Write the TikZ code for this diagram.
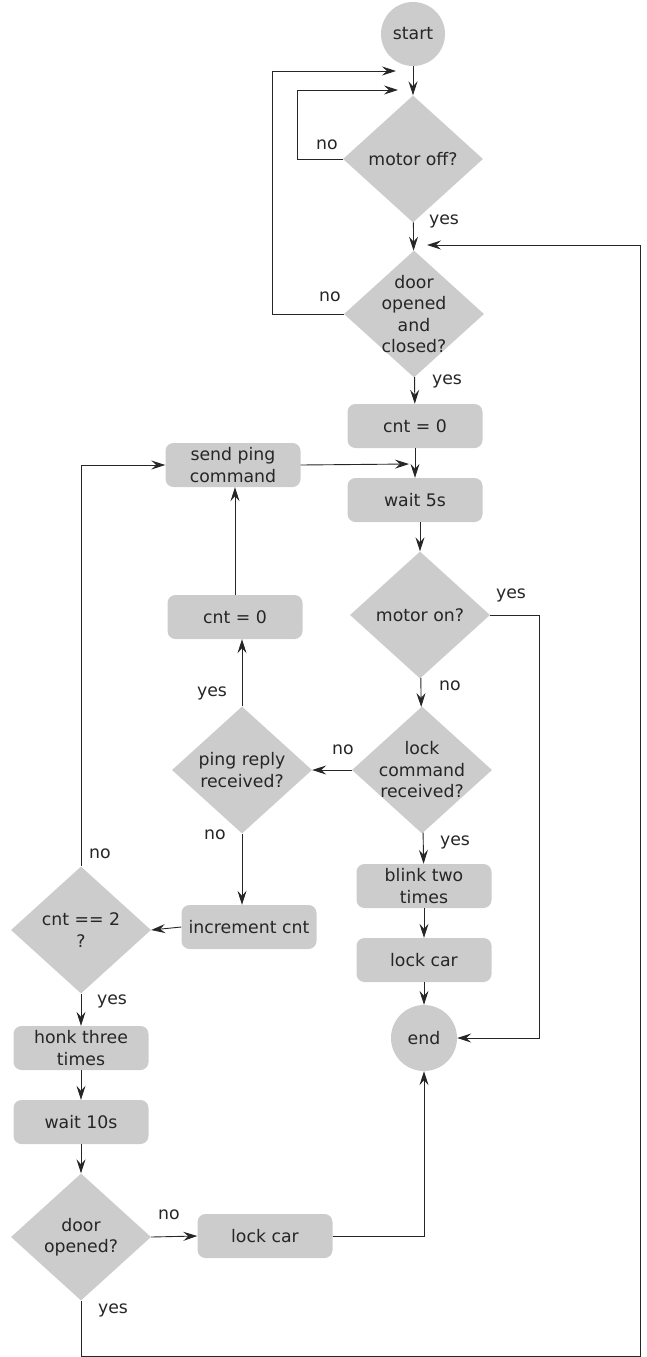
\documentclass[tikz,border=0pt]{standalone}
\usepackage{fontspec}
\setmainfont{DejaVu Sans}
\usetikzlibrary{shapes.geometric,arrows.meta}
\definecolor{boxgray}{RGB}{204,204,204}

\begin{document}
\begin{tikzpicture}[x=1pt, y=-1pt,
  every node/.style={font=\fontsize{17.3}{21.5}\selectfont, text=black!85},
  box/.style={fill=boxgray, rounded corners=8pt, minimum width=135pt, minimum height=44pt, inner sep=2pt, align=center},
  decision/.style={diamond, fill=boxgray, minimum width=140pt, minimum height=127pt, inner sep=-20pt, align=center},
  terminal/.style={circle, fill=boxgray, minimum size=64pt, inner sep=0pt},
  flow/.style={line width=0.9pt, black!85},
  >={Stealth[length=14pt, width=9pt, inset=5pt]}]
  \useasboundingbox (0,0) rectangle (647,1357);

  % main column
  \node[terminal] (start) at (413,34) {start};
  \node[decision] (motoroff) at (413,159) {motor off?};
  \node[decision] (door) at (414,314) {door\\opened\\and\\closed?};
  \node[box] (cntA) at (415,426) {cnt = 0};
  \node[box] (waitA) at (415,500) {wait 5s};
  \node[decision] (motoron) at (420,615) {motor on?};
  \node[decision] (lockcmd) at (422,770) {lock\\command\\received?};
  \node[box] (blink) at (424,886) {blink two\\times};
  \node[box] (lockA) at (424,960) {lock car};
  \node[terminal, minimum size=66pt] (end) at (424,1038) {end};

  % ping loop
  \node[box] (ping) at (233,465) {send ping\\command};
  \node[box] (cntB) at (235,617) {cnt = 0};
  \node[decision] (reply) at (242,770) {ping reply\\received?};
  \node[box] (incr) at (249,927) {increment cnt};
  \node[decision] (cnt2) at (81,930) {cnt == 2\\?};
  \node[box] (honk) at (81,1048) {honk three\\times};
  \node[box] (waitB) at (81,1122) {wait 10s};
  \node[decision] (dooropen) at (81,1237) {door\\opened?};
  \node[box] (lockB) at (265,1236) {lock car};

  \coordinate (in1) at (398,90);
  \coordinate (in2) at (396,71);
  \coordinate (in3) at (427,245);
  \coordinate (in4) at (409,464);

  \draw[flow,->] (start) -- (motoroff);
  \draw[flow,->] (motoroff.west) -- ++(-45,0) |- (in1);
  \draw[flow,->] (motoroff) -- (door);
  \draw[flow,->] (door.west) -- ++(-71,0) |- (in2);
  \draw[flow,->] (door) -- (cntA);
  \draw[flow,->] (cntA) -- (waitA);
  \draw[flow,->] (ping.east) -- (in4);
  \draw[flow,->] (motoron.north |- waitA.south) -- (motoron.north);
  \draw[flow,->] (motoron.east) -- ++(49,0) |- (end.east);
  \draw[flow,->] (motoron) -- (lockcmd);
  \draw[flow,->] (lockcmd.west) -- (reply.east);
  \draw[flow,->] (lockcmd) -- (blink);
  \draw[flow,->] (blink) -- (lockA);
  \draw[flow,->] (lockA) -- (end);

  \draw[flow,->] (reply.north) -- (reply.north |- cntB.south);
  \draw[flow,->] (cntB.north) -- (cntB.north |- ping.south);
  \draw[flow,->] (reply.south) -- (reply.south |- incr.north);
  \draw[flow,->] (incr.west) -- (cnt2.east);
  \draw[flow,->] (cnt2.north) |- (ping.west);
  \draw[flow,->] (cnt2) -- (honk);
  \draw[flow,->] (honk) -- (waitB);
  \draw[flow,->] (waitB) -- (dooropen);
  \draw[flow,->] (dooropen.east) -- (lockB.west);
  \draw[flow,->] (lockB.east) -| (end.south);
  \draw[flow,->] (dooropen.south) |- (640,1356) -- (640,245) -- (in3);

  % yes / no
  \node (n1) at (327,145) {no};
  \node (y1) at (444,221) {yes};
  \node (n2) at (330,297) {no};
  \node (y2) at (447,381) {yes};
  \node (y3) at (511,595) {yes};
  \node (n3) at (450,686) {no};
  \node (n4) at (343,750) {no};
  \node (y4) at (455,842) {yes};
  \node (y5) at (212,693) {yes};
  \node (n5) at (215,835) {no};
  \node (n6) at (100,854) {no};
  \node (y6) at (112,1001) {yes};
  \node (n7) at (169,1215) {no};
  \node (y7) at (113,1310) {yes};
\end{tikzpicture}
\end{document}
